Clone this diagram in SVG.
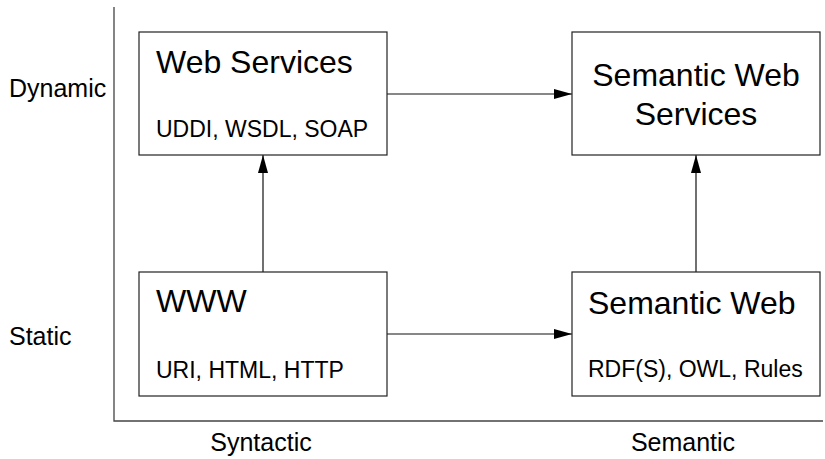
<svg xmlns="http://www.w3.org/2000/svg" width="825" height="459" viewBox="0 0 825 459">
<defs>
<style>
text{font-family:"Liberation Sans",Arial,Helvetica,sans-serif;fill:#000}
.box{fill:#fff;stroke:#222;stroke-width:1.2}
.axis{stroke:#444;stroke-width:1.3;fill:none}
.title{font-size:32px}
.sub{font-size:23px}
.lbl{font-size:25px}
.conn{stroke:#111;stroke-width:1.2;fill:none;marker-end:url(#arr)}
</style>
<marker id="arr" viewBox="0 0 18 10" refX="18" refY="5" markerWidth="18" markerHeight="10" markerUnits="userSpaceOnUse" orient="auto">
<path d="M0,0 L18,5 L0,10 Z" fill="#000"/>
</marker>
</defs>
<g id="axes">
<path class="axis" d="M114,7 V421 H823"/>
<text class="lbl" x="9" y="97">Dynamic</text>
<text class="lbl" x="9" y="345">Static</text>
<text class="lbl" x="261" y="451" text-anchor="middle">Syntactic</text>
<text class="lbl" x="683" y="451" text-anchor="middle">Semantic</text>
</g>
<g id="connectors">
<line class="conn" x1="387" y1="94" x2="572" y2="94"/>
<line class="conn" x1="387" y1="334" x2="572" y2="334"/>
<line class="conn" x1="263" y1="272" x2="263" y2="155"/>
<line class="conn" x1="696" y1="272" x2="696" y2="155"/>
</g>
<g id="web-services">
<rect class="box" x="139" y="32" width="248" height="123"/>
<text class="title" x="156" y="73">Web Services</text>
<text class="sub" x="156" y="137">UDDI, WSDL, SOAP</text>
</g>
<g id="semantic-web-services">
<rect class="box" x="572" y="32" width="248" height="123"/>
<text class="title" x="696" y="86" text-anchor="middle">Semantic Web</text>
<text class="title" x="696" y="125" text-anchor="middle">Services</text>
</g>
<g id="www">
<rect class="box" x="139" y="272" width="248" height="124"/>
<text class="title" x="156" y="312">WWW</text>
<text class="sub" x="156" y="378">URI, HTML, HTTP</text>
</g>
<g id="semantic-web">
<rect class="box" x="572" y="272" width="248" height="124"/>
<text class="title" x="588" y="314">Semantic Web</text>
<text class="sub" x="588" y="377">RDF(S), OWL, Rules</text>
</g>
</svg>
